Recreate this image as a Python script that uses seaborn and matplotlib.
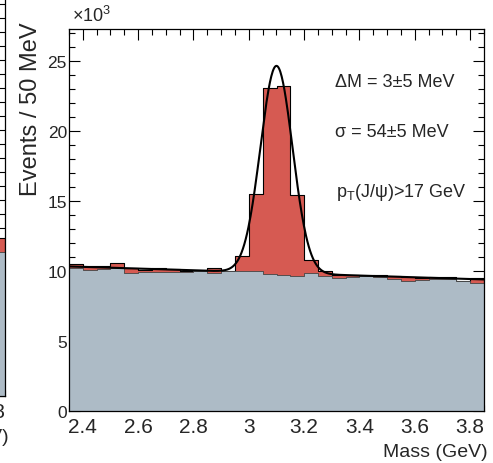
import matplotlib
matplotlib.use("Agg")
import matplotlib.pyplot as plt
import seaborn as sns
import numpy as np
import pandas as pd

# binning: 30 bins of 50 MeV from 2.35 to 3.85 GeV
bin_edges = [round(2.35 + 0.05 * i, 3) for i in range(31)]
bin_centers = [round(2.375 + 0.05 * i, 4) for i in range(30)]

# events per bin, in thousands
total_k = [10.50, 10.38, 10.33, 10.60, 10.20, 10.09, 10.19, 10.14, 10.02, 10.00,
           10.19, 10.02, 11.05, 15.50, 23.10, 23.25, 15.45, 10.80, 10.00, 9.71,
           9.74, 9.67, 9.74, 9.62, 9.55, 9.52, 9.55, 9.60, 9.30, 9.48]
background_k = [10.20, 10.10, 10.15, 10.25, 9.83, 9.90, 9.95, 9.90, 9.95, 10.00,
                9.83, 10.00, 10.00, 10.00, 9.80, 9.75, 9.67, 9.83, 9.65, 9.48,
                9.60, 9.62, 9.60, 9.43, 9.31, 9.36, 9.43, 9.43, 9.28, 9.12]

# fit: gaussian on a linear background
fit_mean = 3.100
fit_sigma = 0.058
fit_peak_k = 14.8
fit_bkg_at_2p4 = 10.30
fit_bkg_slope = -0.62   # thousands per GeV

# neighbouring panel (only its last bin shows at the left edge)
left_centers = [3.825]
left_total_k = [11.3]
left_background_k = [10.3]

xticks = [2.4, 2.6, 2.8, 3.0, 3.2, 3.4, 3.6, 3.8]
xticklabels = ["2.4", "2.6", "2.8", "3", "3.2", "3.4", "3.6", "3.8"]
yticks = [0, 5, 10, 15, 20, 25]

RED = "#d65a52"
GRAY = "#adbbc6"

sns.set_style("ticks")
plt.rcParams["font.family"] = ["Liberation Sans", "DejaVu Sans"]
plt.rcParams["mathtext.fontset"] = "custom"
plt.rcParams["mathtext.rm"] = "Liberation Sans"
plt.rcParams["mathtext.it"] = "Liberation Sans:italic"

W, H = 493, 464
fig = plt.figure(figsize=(W / 100, H / 100), dpi=100)


def style_axes(a, xfs, yfs):
    a.set_axisbelow(True)
    a.set_xlim(2.35, 3.85)
    a.set_xticks(xticks)
    a.set_xticklabels(xticklabels)
    a.set_xticks(np.arange(2.35, 3.851, 0.05), minor=True)
    a.tick_params(which="both", direction="in", top=True, right=True,
                  width=0.8, color="black")
    a.tick_params(which="major", length=8)
    a.tick_params(which="minor", length=4)
    a.tick_params(axis="x", labelsize=xfs, pad=4.5)
    a.tick_params(axis="y", labelsize=yfs, pad=1.5)
    for s in a.spines.values():
        s.set_color("black")
        s.set_linewidth(0.9)
    a.set_xlabel("")
    a.set_ylabel("")


def draw_hists(a, centers, tot, bkg, edges):
    df = pd.DataFrame({"mass": centers, "tot": tot, "bkg": bkg})
    sns.histplot(data=df, x="mass", weights="tot", bins=edges, element="step",
                 fill=True, color=RED, alpha=1, edgecolor="black",
                 linewidth=0.8, ax=a)
    sns.histplot(data=df, x="mass", weights="bkg", bins=edges, element="step",
                 fill=True, color=GRAY, alpha=1, edgecolor="#444444",
                 linewidth=0.6, ax=a)


# main panel
ax = fig.add_axes([69 / W, 1 - 412 / H, 415 / W, 382 / H])
draw_hists(ax, bin_centers, total_k, background_k, bin_edges)

xs = np.linspace(2.35, 3.85, 600)
ys = (fit_bkg_at_2p4 + fit_bkg_slope * (xs - 2.4)
      + fit_peak_k * np.exp(-0.5 * ((xs - fit_mean) / fit_sigma) ** 2))
sns.lineplot(x=xs, y=ys, color="black", linewidth=1.5, ax=ax)

style_axes(ax, 15, 12.5)
ax.set_ylim(0, 27.3)
ax.set_yticks(yticks)
ax.set_yticks(np.arange(0, 27.3, 1), minor=True)

ax.set_xlabel("Mass (GeV)", fontsize=14, loc="right")
ax.xaxis.set_label_coords(1.008, -0.083)
ax.set_ylabel("Events / 50 MeV", fontsize=17, loc="top")
ax.yaxis.set_label_coords(-0.064, 1.02)

ax.text(0.007, 1.021, "×10$^{3}$", transform=ax.transAxes,
        fontsize=13, ha="left", va="baseline")

ax.text(3.31, 23.2, "ΔM = 3±5 MeV", fontsize=13, ha="left", va="baseline")
ax.text(3.31, 19.64, "σ = 54±5 MeV", fontsize=13, ha="left", va="baseline")
ax.text(3.315, 15.36, r"p$_{\mathregular{T}}$(J/ψ)>17 GeV", fontsize=13,
        ha="left", va="baseline")

# neighbouring panel, cut by the image edge
axl = fig.add_axes([(5 - 415) / W, 1 - 397 / H, 415 / W, 420 / H])
draw_hists(axl, left_centers, left_total_k, left_background_k, [3.80, 3.85])
style_axes(axl, 15, 12.5)
axl.set_ylim(0, 30)
axl.set_yticks(yticks)
axl.set_yticks(np.arange(0, 30, 1), minor=True)
axl.tick_params(axis="y", labelleft=False)
axl.set_xticks([3.8])
axl.set_xticklabels(["3.8"])
axl.set_xlabel("Mass (GeV)", fontsize=14, loc="right")
axl.xaxis.set_label_coords(1.008, -0.075)

fig.savefig("out.png", dpi=100)
